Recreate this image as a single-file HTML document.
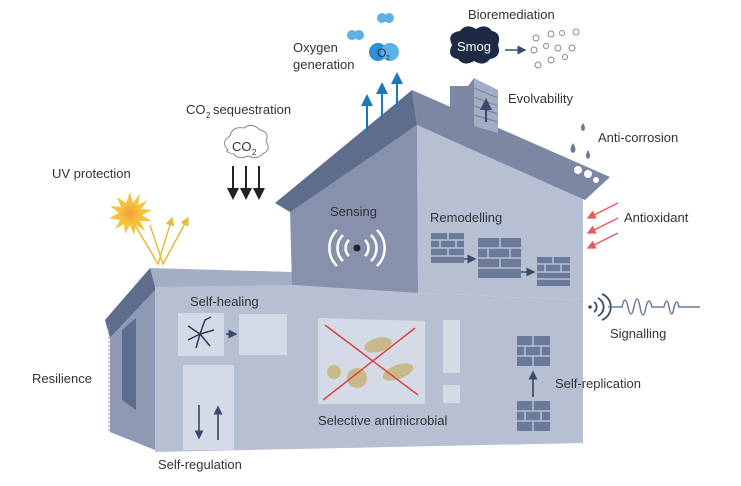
<!DOCTYPE html>
<html><head><meta charset="utf-8"><style>
html,body{margin:0;padding:0;background:#fff}
svg{display:block}
text{font-family:"Liberation Sans",sans-serif;fill:#333;font-size:13px}
</style></head><body>
<svg width="741" height="486" viewBox="0 0 741 486" xmlns="http://www.w3.org/2000/svg">
<defs>
<marker id="ab" markerWidth="6" markerHeight="6" refX="5" refY="3" orient="auto"><path d="M0,0L6,3L0,6z" fill="#222"/></marker>
<marker id="abl" markerWidth="6" markerHeight="6" refX="5" refY="3" orient="auto"><path d="M0,0L6,3L0,6z" fill="#1a7ab8"/></marker>
<marker id="an" markerWidth="6" markerHeight="6" refX="5" refY="3" orient="auto"><path d="M0,0L6,3L0,6z" fill="#3b4a6b"/></marker>
<marker id="ay" markerWidth="6" markerHeight="6" refX="5" refY="3" orient="auto"><path d="M0,0L6,3L0,6z" fill="#e8b93a"/></marker>
<marker id="ar" markerWidth="6" markerHeight="6" refX="5" refY="3" orient="auto"><path d="M0,0L6,3L0,6z" fill="#e85c5c"/></marker>
<radialGradient id="sun"><stop offset="0" stop-color="#f59a3a"/><stop offset="1" stop-color="#f7c23a"/></radialGradient>
</defs>

<!-- lower wing -->
<polygon points="105,320 150,268 160,285 110,338" fill="#5f6d8d"/>
<polygon points="110,338 160,285 155,450 110,432" fill="#8e99b3"/>
<polygon points="122,330 136,318 136,410 122,400" fill="#5f6d8d"/>
<polygon points="150,268 292,272 292,290 155,287" fill="#a3adc4"/>
<polygon points="155,287 292,285 418,293 583,300 583,443 155,452" fill="#b7c0d3"/>
<!-- main upper -->
<polygon points="417,125 583,198 583,300 418,293" fill="#b7c0d3"/>
<polygon points="290,210 417,125 418,293 292,285" fill="#8791ab"/>
<polygon points="275,203 412,90 417,125 290,212" fill="#5f6d8d"/>
<polygon points="412,90 610,177 585,200 417,125" fill="#7b87a3"/>
<!-- chimney -->
<polygon points="450,110 450,86 468,86 474,78 474,126" fill="#7b87a3"/>
<polygon points="474,78 498,90 498,133 474,126" fill="#a3adc4"/>
<g stroke="#7b87a3" stroke-width="1.2"><line x1="474" y1="88" x2="498" y2="98"/><line x1="474" y1="97" x2="498" y2="106"/><line x1="474" y1="106" x2="498" y2="114"/><line x1="474" y1="115" x2="498" y2="122"/></g>
<line x1="486" y1="122" x2="486" y2="100" stroke="#3b4a6b" stroke-width="2" marker-end="url(#an)"/>
<!-- corrosion bites -->
<circle cx="578" cy="170" r="4" fill="#fff"/><circle cx="588" cy="174" r="4" fill="#fff"/><circle cx="596" cy="180" r="3" fill="#fff"/>

<!-- Oxygen -->
<text x="293" y="52">Oxygen</text><text x="293" y="69">generation</text>
<circle cx="378" cy="52" r="9" fill="#2f8fd0"/><circle cx="390" cy="52" r="9" fill="#5fb0e6"/>
<text x="377" y="57" style="font-size:12px;fill:#1d3557">O</text><text x="386" y="60" style="font-size:7px;fill:#1d3557">2</text>
<circle cx="382" cy="18" r="5" fill="#5fb0e6"/><circle cx="389" cy="18" r="5" fill="#5fb0e6"/>
<circle cx="352" cy="35" r="5" fill="#5fb0e6"/><circle cx="359" cy="35" r="5" fill="#5fb0e6"/>
<g stroke="#1a7ab8" stroke-width="2">
<line x1="367" y1="132" x2="367" y2="96" marker-end="url(#abl)"/>
<line x1="382" y1="120" x2="382" y2="84" marker-end="url(#abl)"/>
<line x1="397" y1="108" x2="397" y2="74" marker-end="url(#abl)"/></g>

<!-- Bioremediation -->
<text x="468" y="19">Bioremediation</text>
<path d="M452,45 q-6,-12 8,-14 q6,-8 16,-2 q10,-6 16,2 q10,2 6,14 q4,12 -8,14 q-6,8 -16,2 q-10,6 -16,-2 q-12,-2 -6,-14z" fill="#1d2a44"/>
<text x="457" y="51" style="fill:#fff;font-size:13px">Smog</text>
<line x1="505" y1="50" x2="525" y2="50" stroke="#3b4a6b" stroke-width="1.5" marker-end="url(#an)"/>
<g fill="none" stroke="#888" stroke-width="1">
<circle cx="536" cy="38" r="3"/><circle cx="551" cy="34" r="3"/><circle cx="562" cy="33" r="2.5"/><circle cx="576" cy="32" r="3"/>
<circle cx="534" cy="50" r="3"/><circle cx="546" cy="46" r="2.5"/><circle cx="558" cy="48" r="3"/><circle cx="572" cy="48" r="3"/>
<circle cx="538" cy="65" r="3"/><circle cx="551" cy="60" r="3"/><circle cx="565" cy="57" r="2.5"/></g>

<text x="508" y="103">Evolvability</text>
<!-- drops -->
<g fill="#6b7a99"><path d="M583,123 q-4,6 0,8 q4,-2 0,-8z"/><path d="M573,143 q-5,8 0,10 q5,-2 0,-10z"/><path d="M588,150 q-4,7 0,9 q4,-2 0,-9z"/></g>
<text x="598" y="142">Anti-corrosion</text>

<!-- CO2 -->
<text x="186" y="114">CO</text><text x="206" y="118" style="font-size:8px">2</text><text x="213" y="114"> sequestration</text>
<path d="M228,150 q-8,-8 2,-14 q2,-10 14,-8 q8,-6 16,2 q10,2 6,12 q6,8 -4,12 q-4,6 -14,2 q-10,4 -14,-2 q-10,-2 -6,-4z" fill="#fff" stroke="#888" stroke-width="1"/>
<text x="232" y="151">CO</text><text x="252" y="155" style="font-size:8px">2</text>
<g stroke="#222" stroke-width="2"><line x1="233" y1="166" x2="233" y2="198" marker-end="url(#ab)"/><line x1="246" y1="166" x2="246" y2="198" marker-end="url(#ab)"/><line x1="259" y1="166" x2="259" y2="198" marker-end="url(#ab)"/></g>

<!-- UV -->
<text x="52" y="178">UV protection</text>
<polygon points="130,192 133,203 140,194 138,205 148,200 141,209 152,210 142,215 151,221 140,221 145,231 136,225 134,235 130,225 125,234 124,224 115,229 120,220 109,218 119,213 110,206 121,207 117,197 126,203" fill="#f7c23a"/>
<circle cx="130" cy="213" r="10" fill="url(#sun)"/>
<g stroke="#e8b93a" stroke-width="1.5" fill="none">
<polyline points="135,225 158,264 172,218" marker-end="url(#ay)"/>
<polyline points="150,225 163,264 188,218" marker-end="url(#ay)"/></g>

<!-- Sensing -->
<text x="330" y="216">Sensing</text>
<circle cx="357" cy="248" r="3.5" fill="#222"/>
<g fill="none" stroke="#fff" stroke-width="2.5">
<path d="M349,240 a11,11 0 0 0 0,16"/><path d="M365,240 a11,11 0 0 1 0,16"/>
<path d="M343,235 a18,18 0 0 0 0,26"/><path d="M371,235 a18,18 0 0 1 0,26"/>
<path d="M337,230 a25,25 0 0 0 0,36"/><path d="M377,230 a25,25 0 0 1 0,36"/></g>

<!-- Remodelling -->
<text x="430" y="222">Remodelling</text>
<g fill="#6b7a99">
<rect x="431" y="233" width="33" height="30"/>
<rect x="478" y="238" width="43" height="40"/>
<rect x="537" y="257" width="33" height="29"/></g>
<g stroke="#b7c0d3" stroke-width="1.5">
<line x1="431" y1="240" x2="464" y2="240"/><line x1="431" y1="248" x2="464" y2="248"/><line x1="431" y1="256" x2="464" y2="256"/>
<line x1="478" y1="248" x2="521" y2="248"/><line x1="478" y1="258" x2="521" y2="258"/><line x1="478" y1="268" x2="521" y2="268"/>
<line x1="537" y1="264" x2="570" y2="264"/><line x1="537" y1="272" x2="570" y2="272"/><line x1="537" y1="279" x2="570" y2="279"/>
<line x1="448" y1="233" x2="448" y2="240"/><line x1="440" y1="240" x2="440" y2="248"/><line x1="456" y1="240" x2="456" y2="248"/><line x1="448" y1="248" x2="448" y2="256"/>
<line x1="500" y1="238" x2="500" y2="248"/><line x1="488" y1="248" x2="488" y2="258"/><line x1="510" y1="248" x2="510" y2="258"/><line x1="500" y1="258" x2="500" y2="268"/>
<line x1="553" y1="257" x2="553" y2="264"/><line x1="545" y1="264" x2="545" y2="272"/><line x1="561" y1="264" x2="561" y2="272"/></g>
<g stroke="#3b4a6b" stroke-width="1.5"><line x1="464" y1="259" x2="475" y2="259" marker-end="url(#an)"/><line x1="521" y1="272" x2="534" y2="272" marker-end="url(#an)"/></g>

<!-- Antioxidant -->
<g stroke="#e85c5c" stroke-width="1.5"><line x1="618" y1="203" x2="588" y2="218" marker-end="url(#ar)"/><line x1="618" y1="218" x2="588" y2="233" marker-end="url(#ar)"/><line x1="618" y1="233" x2="588" y2="248" marker-end="url(#ar)"/></g>
<text x="624" y="222">Antioxidant</text>

<!-- Signalling -->
<circle cx="590" cy="307" r="1.8" fill="#3b4a6b"/>
<g fill="none" stroke="#3b4a6b" stroke-width="1.8"><path d="M594,302 a6,6 0 0 1 0,10"/><path d="M598,298 a10,10 0 0 1 0,18"/><path d="M602,294 a14,14 0 0 1 0,26"/></g>
<path d="M608,307 L622,307 q3,-14 6,0 q3,14 6,0 q3,-16 6,0 q3,16 6,0 q3,-12 6,0 L664,307 q3,-12 5,0 q3,14 5,0 q3,-10 5,0 L700,307" fill="none" stroke="#6b7a99" stroke-width="1.5"/>
<text x="610" y="338">Signalling</text>

<!-- Self-healing -->
<text x="190" y="306">Self-healing</text>
<rect x="178" y="313" width="46" height="43" fill="#d5dbe6"/>
<g stroke="#2e3b58" stroke-width="1.5" fill="none"><path d="M200,334 l-12,-8 M200,334 l5,-14 l6,-3 M200,334 l14,-4 M200,334 l10,12 M200,334 l-4,14 M200,334 l-12,6"/></g>
<line x1="226" y1="334" x2="236" y2="334" stroke="#3b4a6b" stroke-width="1.5" marker-end="url(#an)"/>
<rect x="239" y="314" width="48" height="41" fill="#d5dbe6"/>

<!-- door -->
<rect x="183" y="365" width="51" height="85" fill="#d5dbe6"/>
<g stroke="#2e3b58" stroke-width="1.5"><line x1="199" y1="405" x2="199" y2="438" marker-end="url(#an)"/><line x1="218" y1="440" x2="218" y2="407" marker-end="url(#an)"/></g>
<text x="158" y="469">Self-regulation</text>

<!-- antimicrobial -->
<polygon points="318,318 425,321 425,404 318,404" fill="#d5dbe6"/>
<g fill="#c8b98a"><ellipse cx="378" cy="345" rx="14" ry="7" transform="rotate(-15 378 345)"/><ellipse cx="398" cy="372" rx="16" ry="7" transform="rotate(-20 398 372)"/>
<circle cx="334" cy="372" r="7"/><circle cx="357" cy="378" r="10"/></g>
<g stroke="#e04040" stroke-width="1.5"><line x1="325" y1="325" x2="418" y2="395"/><line x1="415" y1="328" x2="323" y2="400"/></g>
<text x="318" y="425">Selective antimicrobial</text>
<rect x="443" y="320" width="17" height="53" fill="#d5dbe6"/>
<rect x="443" y="385" width="17" height="18" fill="#d5dbe6"/>

<!-- self-replication -->
<g fill="#6b7a99"><rect x="517" y="336" width="33" height="30"/><rect x="517" y="401" width="33" height="30"/></g>
<g stroke="#b7c0d3" stroke-width="1.5"><line x1="517" y1="346" x2="550" y2="346"/><line x1="517" y1="356" x2="550" y2="356"/><line x1="517" y1="411" x2="550" y2="411"/><line x1="517" y1="421" x2="550" y2="421"/>
<line x1="533" y1="336" x2="533" y2="346"/><line x1="525" y1="346" x2="525" y2="356"/><line x1="541" y1="346" x2="541" y2="356"/><line x1="533" y1="356" x2="533" y2="366"/>
<line x1="533" y1="401" x2="533" y2="411"/><line x1="525" y1="411" x2="525" y2="421"/><line x1="541" y1="411" x2="541" y2="421"/><line x1="533" y1="421" x2="533" y2="431"/></g>
<line x1="533" y1="397" x2="533" y2="372" stroke="#2e3b58" stroke-width="1.5" marker-end="url(#an)"/>
<text x="555" y="388">Self-replication</text>

<!-- resilience -->
<line x1="109" y1="325" x2="109" y2="432" stroke="#999" stroke-width="1" stroke-dasharray="2,2"/>
<text x="32" y="383">Resilience</text>
</svg>
</body></html>
